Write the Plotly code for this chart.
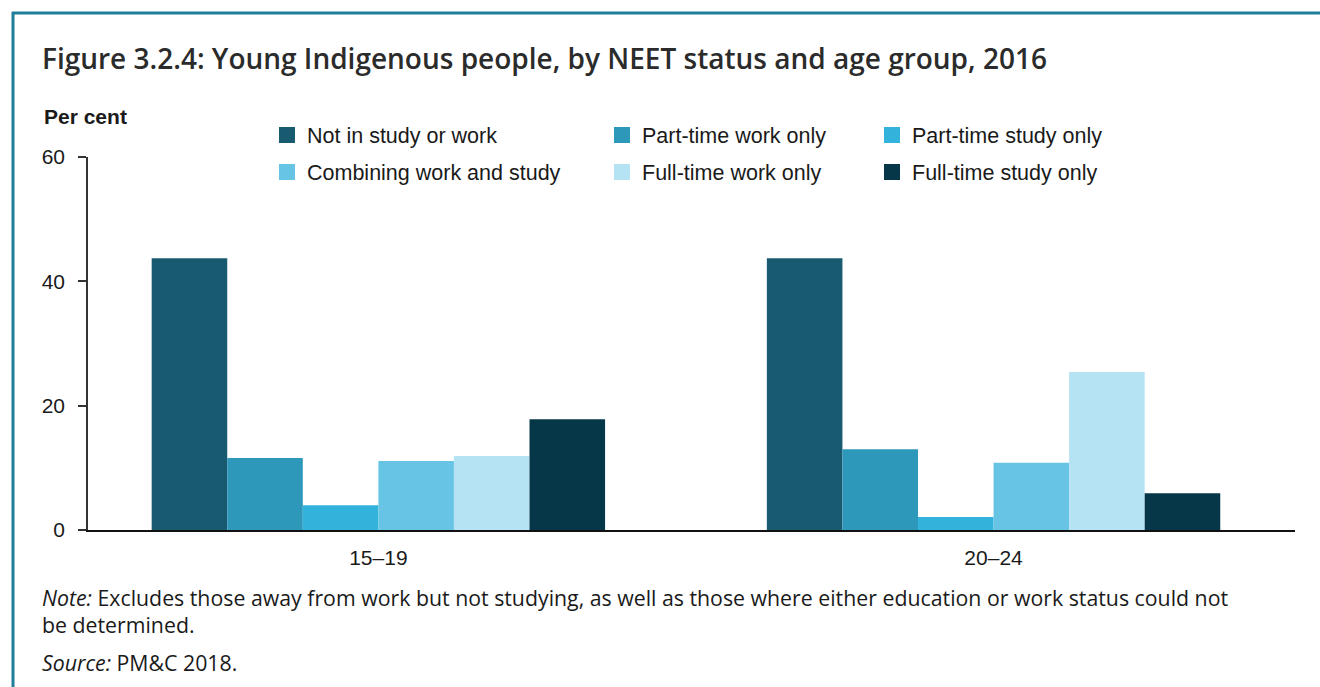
import plotly.graph_objects as go

# ---- data -------------------------------------------------------------
age_groups = ["15–19", "20–24"]
series_names = [
    "Not in study or work",
    "Part-time work only",
    "Part-time study only",
    "Combining work and study",
    "Full-time work only",
    "Full-time study only",
]
not_in_study_or_work = [43.7, 43.7]
part_time_work_only = [11.6, 13.0]
part_time_study_only = [4.0, 2.1]
combining_work_and_study = [11.1, 10.8]
full_time_work_only = [11.9, 25.4]
full_time_study_only = [17.8, 5.9]
series_values = [
    not_in_study_or_work,
    part_time_work_only,
    part_time_study_only,
    combining_work_and_study,
    full_time_work_only,
    full_time_study_only,
]
y_ticks = [0, 20, 40, 60]

# ---- styling ----------------------------------------------------------
colors = ["#185a70", "#2e98bb", "#31b3db", "#67c4e5", "#b5e3f3", "#053749"]
W, H = 1320, 687
ML, MR, MT, MB = 88, 25, 157, 157
PW, PH = W - ML - MR, H - MT - MB

def xp(px):
    return (px - ML) / PW

def yp(py):
    return (H - MB - py) / PH

SANS = "Liberation Sans, Arial, sans-serif"
OPEN = "Open Sans, sans-serif"
TXT = "#1a1a1a"

fig = go.Figure()
x_pos = list(range(len(age_groups)))
for name, vals, col in zip(series_names, series_values, colors):
    fig.add_trace(go.Bar(x=x_pos, y=vals, name=name, marker=dict(color=col, line=dict(width=0)),
                         showlegend=False, hoverinfo="name+y"))

# legend entries: three columns of two
legend_cols = ["legend", "legend2", "legend3"]
for i, (name, col) in enumerate(zip(series_names, colors)):
    fig.add_trace(go.Scatter(x=[None], y=[None], mode="markers", name=name,
                             marker=dict(symbol="square", size=16, color=col, line=dict(width=0)),
                             legend=legend_cols[i % 3], legendgroup=name, showlegend=True))

leg_common = dict(orientation="v", bgcolor="rgba(0,0,0,0)", borderwidth=0,
                  font=dict(family=SANS, size=21.5, color=TXT), tracegroupgap=6,
                  xanchor="left", yanchor="top", itemclick=False, itemdoubleclick=False)
swatch_centres = [287, 622, 892]
legend_top = 114.5

layout_legends = {}
for key, cx in zip(legend_cols, swatch_centres):
    layout_legends[key] = dict(leg_common, x=xp(cx - 20), y=yp(legend_top))

fig.update_layout(
    width=W, height=H,
    margin=dict(l=ML, r=MR, t=MT, b=MB, autoexpand=False),
    paper_bgcolor="white", plot_bgcolor="white",
    barmode="group", bargap=0.263, bargroupgap=0,
    xaxis=dict(range=[-0.472, 1.49], tickvals=x_pos, ticktext=age_groups, showgrid=False,
               zeroline=False, showline=True, linecolor="#111", linewidth=2, ticks="",
               tickfont=dict(family=SANS, size=21, color=TXT), ticklabelstandoff=8),
    yaxis=dict(range=[0, 60], tickvals=y_ticks, showgrid=False, zeroline=False,
               showline=True, linecolor="#333", linewidth=1.5, ticks="outside", ticklen=8,
               tickwidth=1.5, tickcolor="#333", ticklabelstandoff=9,
               tickfont=dict(family=SANS, size=21, color=TXT)),
    **layout_legends,
    showlegend=True,
)

# frame along the top and left edges
frame_col = "#1f7f9a"
fig.add_shape(type="line", xref="paper", yref="paper", x0=xp(12), x1=xp(W + 5),
              y0=yp(13), y1=yp(13), line=dict(color=frame_col, width=3))
fig.add_shape(type="line", xref="paper", yref="paper", x0=xp(13), x1=xp(13),
              y0=yp(12), y1=yp(H + 5), line=dict(color=frame_col, width=3))

fig.add_annotation(text="Figure 3.2.4: Young Indigenous people, by NEET status and age group, 2016",
                   xref="paper", yref="paper", x=xp(40), y=yp(58), xanchor="left", yanchor="middle",
                   showarrow=False, font=dict(family=OPEN, size=28, color="#2b2b2b", weight=600))
fig.add_annotation(text="<b>Per cent</b>", xref="paper", yref="paper", x=xp(42), y=yp(117),
                   xanchor="left", yanchor="middle", showarrow=False,
                   font=dict(family=SANS, size=21, color=TXT))
fig.add_annotation(text="<i>Note:</i> Excludes those away from work but not studying, as well as those where either education or work status could not",
                   xref="paper", yref="paper", x=xp(40), y=yp(597), xanchor="left", yanchor="middle",
                   showarrow=False, font=dict(family=OPEN, size=21.3, color=TXT))
fig.add_annotation(text="be determined.", xref="paper", yref="paper", x=xp(40), y=yp(624),
                   xanchor="left", yanchor="middle", showarrow=False,
                   font=dict(family=OPEN, size=21.3, color=TXT))
fig.add_annotation(text="<i>Source:</i> PM&C 2018.", xref="paper", yref="paper", x=xp(40), y=yp(662),
                   xanchor="left", yanchor="middle", showarrow=False,
                   font=dict(family=OPEN, size=21.3, color=TXT))

fig.write_html("out.html")
